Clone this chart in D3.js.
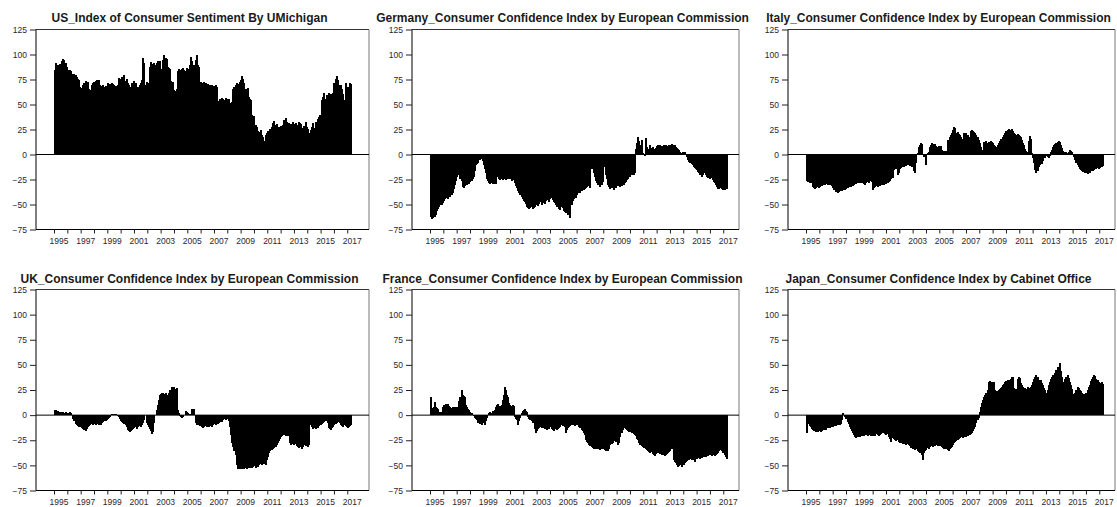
<!DOCTYPE html>
<html>
<head>
<meta charset="utf-8">
<script src="https://cdn.jsdelivr.net/npm/d3@7"></script>
<style>
  html, body { margin: 0; padding: 0; background: #fff; }
  svg { display: block; }
  .title { font-family: "Liberation Sans", Arial, sans-serif; font-weight: bold; font-size: 12px; fill: #1a1a1a; }
  .tick text { font-family: "Liberation Sans", Arial, sans-serif; font-size: 8.5px; fill: #2e252e; }
  .tick line { stroke: #222; }
</style>
</head>
<body>
<svg id="chart" width="1117" height="507"></svg>
<script>
// monthly values, Jan 1995 .. Apr 2017 (one line per year)
const usSentiment = [
  85, 92, 88, 90, 89, 91, 88, 94, 96, 95, 92, 88,
  85, 84, 85, 84, 81, 80, 81, 80, 78, 76, 75, 68,
  66, 67, 70, 72, 74, 72, 73, 66, 64, 65, 70, 72,
  73, 74, 75, 74, 75, 70, 69, 68, 70, 68, 69, 68,
  72, 70, 71, 70, 72, 71, 70, 69, 68, 70, 77, 76,
  74, 78, 72, 80, 74, 76, 72, 70, 66, 68, 72, 70,
  74, 72, 66, 68, 65, 70, 72, 75, 97, 92, 70, 73,
  72, 70, 88, 93, 90, 91, 92, 90, 92, 94, 93, 94,
  86, 83, 95, 100, 97, 96, 88, 87, 86, 74, 72, 73,
  65, 64, 66, 84, 86, 85, 84, 86, 87, 85, 84, 87,
  86, 85, 90, 98, 94, 88, 90, 95, 100, 90, 88, 72,
  73, 72, 71, 73, 72, 70, 71, 69, 70, 68, 70, 69,
  69, 70, 68, 54, 53, 56, 55, 57, 56, 55, 57, 56,
  55, 56, 52, 50, 53, 66, 68, 70, 72, 70, 71, 73,
  75, 79, 76, 72, 66, 65, 67, 58, 56, 55, 40, 38,
  39, 30, 28, 24, 22, 23, 25, 20, 18, 14, 20, 22,
  24, 22, 26, 20, 28, 32, 34, 30, 31, 26, 28, 25,
  29, 27, 30, 35, 37, 33, 30, 32, 29, 31, 30, 33,
  31, 32, 29, 30, 33, 32, 31, 27, 25, 29, 33, 28,
  26, 13, 22, 25, 28, 32, 27, 33, 30, 36, 38, 40,
  38, 55, 58, 62, 56, 60, 58, 62, 60, 61, 58, 62,
  72, 76, 79, 75, 70, 68, 70, 66, 61, 55, 72, 56,
  68, 66, 72, 71
];

const germanyConfidence = [
  -62, -64, -63, -62, -62, -60, -56, -54, -52, -50, -50, -48,
  -46, -44, -43, -43, -44, -42, -42, -40, -38, -34, -30, -26,
  -22, -19, -20, -24, -26, -32, -33, -31, -30, -30, -28, -29,
  -27, -26, -24, -22, -16, -10, -9, -8, -4, -5, -4, -6,
  -10, -14, -18, -24, -26, -28, -29, -28, -29, -29, -28, -29,
  -22, -21, -24, -25, -24, -25, -23, -24, -25, -24, -24, -23,
  -24, -26, -23, -25, -28, -31, -33, -36, -38, -40, -42, -44,
  -46, -47, -49, -52, -53, -54, -53, -52, -54, -53, -52, -50,
  -48, -51, -49, -47, -50, -48, -47, -49, -46, -44, -45, -47,
  -44, -43, -45, -47, -48, -50, -52, -52, -54, -55, -52, -53,
  -56, -57, -58, -52, -60, -54, -63, -50, -46, -44, -42, -43,
  -40, -38, -37, -38, -36, -35, -35, -34, -33, -32, -30, -31,
  -33, -14, -12, -18, -22, -26, -28, -30, -28, -32, -30, -27,
  -12, -10, -20, -24, -30, -32, -34, -33, -32, -35, -32, -33,
  -31, -31, -30, -32, -31, -30, -30, -28, -27, -25, -24, -22,
  -22, -20, -19, -20, -18, 6, 12, 18, 14, 10, 15, 2,
  0, -1, 17, 8, 5, 6, 10, 7, 8, 6, 5, 7,
  9, 10, 8, 10, 9, 8, 10, 7, 10, 8, 9, 10,
  10, 11, 10, 9, 10, 8, 7, 6, 5, 3, 2, 3,
  1, 3, 0, -2, -5, -7, -8, -9, -10, -12, -13, -14,
  -15, -17, -18, -20, -22, -20, -17, -18, -20, -22, -23, -22,
  -24, -23, -25, -27, -28, -30, -32, -34, -34, -33, -34, -35,
  -34, -35, -34, -34
];

const italyConfidence = [
  -26, -27, -27, -28, -28, -28, -32, -33, -34, -33, -32, -33,
  -32, -31, -31, -30, -29, -30, -29, -30, -29, -30, -29, -31,
  -33, -35, -34, -37, -38, -37, -36, -35, -36, -35, -34, -35,
  -34, -33, -32, -31, -32, -30, -31, -30, -28, -29, -28, -27,
  -28, -27, -28, -27, -29, -30, -28, -27, -28, -26, -25, -27,
  -35, -33, -32, -31, -32, -30, -31, -30, -30, -29, -30, -29,
  -29, -28, -27, -26, -24, -22, -23, -15, -13, -14, -20, -18,
  -14, -13, -12, -11, -12, -10, -11, -10, -10, -11, -10, -12,
  -12, -16, -18, -8, 2, 8, 10, 12, 11, 0, -2, 1,
  -10, 2, 3, 8, 10, 12, 11, 10, 11, 9, 8, 9,
  8, 9, 5, 3, 4, 3, 4, 15, 14, 18, 20, 22,
  25, 28, 27, 22, 23, 21, 20, 18, 15, 16, 22, 21,
  22, 20, 18, 16, 24, 25, 24, 23, 22, 20, 18, 15,
  12, 8, 5, 2, 13, 12, 14, 12, 13, 12, 14, 13,
  12, 10, 9, 8, 10, 12, 14, 16, 15, 18, 20, 22,
  24, 25, 26, 25, 24, 26, 24, 22, 21, 20, 21, 20,
  19, 18, 15, 12, 10, 6, 4, 3, 14, 19, 16, 2,
  -3, -8, -15, -18, -16, -12, -10, -8, -9, -6, -2, -3,
  -1, -2, -3, -1, 3, 5, 8, 10, 11, 12, 13, 14,
  13, 10, 7, 4, 3, 2, 3, 2, 3, 5, 4, 3,
  1, -2, -5, -8, -10, -12, -14, -15, -16, -17, -16, -18,
  -18, -19, -17, -18, -16, -15, -16, -15, -14, -14, -13, -14,
  -13, -12, -12, -11
];

const ukConfidence = [
  5, 5, 4, 4, 3, 3, 3, 3, 3, 2, 3, 2,
  2, 2, 3, 2, 0, -4, -6, -9, -10, -11, -12, -11,
  -12, -13, -14, -15, -16, -14, -12, -11, -10, -9, -8, -10,
  -9, -10, -8, -9, -10, -9, -10, -8, -7, -6, -6, -5,
  -4, -3, -2, 0, 1, 1, 1, 1, 0, -1, -2, -4,
  -6, -7, -8, -9, -10, -12, -15, -16, -17, -16, -15, -14,
  -13, -12, -14, -12, -11, -10, -12, -10, -8, -5, 0, -8,
  -10, -12, -14, -16, -19, -17, -8, 0, 5, 10, 15, 20,
  21, 22, 22, 21, 22, 13, 20, 22, 25, 24, 28, 27,
  28, 26, 27, 5, 2, -1, -2, -3, -2, 0, 4, 3,
  2, 0, 1, 0, 6, 5, 6, -8, -10, -9, -10, -11,
  -11, -12, -13, -12, -11, -12, -11, -12, -10, -11, -12, -10,
  -9, -10, -8, -9, -8, -7, -6, -7, -5, -4, -5, -4,
  -4, -6, -12, -20, -28, -32, -36, -40, -50, -54, -53, -54,
  -54, -54, -53, -54, -53, -54, -53, -52, -53, -52, -53, -52,
  -51, -53, -50, -52, -50, -49, -48, -50, -46, -49, -50, -45,
  -42, -38, -36, -35, -35, -34, -33, -32, -30, -28, -26, -24,
  -22, -21, -20, -20, -21, -20, -21, -20, -28, -30, -29, -28,
  -30, -29, -31, -32, -33, -32, -31, -34, -32, -30, -31, -28,
  -32, -30, -10, -8, -12, -14, -13, -14, -12, -13, -11, -10,
  -10, -9, -8, -7, -6, -5, -8, -13, -14, -15, -13, -12,
  -10, -9, -8, -7, -6, -8, -10, -11, -12, -10, -11, -12,
  -13, -12, -11, -10
];

const franceConfidence = [
  18, 7, 2, 8, 13, 8, 7, 6, 2, 3, 3, 8,
  10, 10, 11, 10, 11, 9, 8, 7, 8, 8, 7, 8,
  7, 8, 14, 18, 25, 20, 19, 18, 10, 8, 6, 5,
  3, 2, 0, -1, -3, -4, -5, -8, -8, -9, -10, -7,
  -8, -10, -6, -3, 0, 2, 3, 2, 4, 3, 5, 8,
  10, 11, 8, 9, 10, 15, 20, 28, 25, 20, 18, 12,
  10, 9, 10, 9, -2, -4, -5, -10, -6, -3, 2, 4,
  5, 6, 4, 3, -2, -4, -5, -6, -8, -7, -14, -18,
  -16, -14, -13, -12, -13, -12, -13, -14, -12, -15, -13, -14,
  -12, -14, -15, -16, -14, -13, -15, -14, -13, -12, -10, -11,
  -10, -12, -18, -15, -13, -12, -11, -10, -9, -10, -11, -10,
  -9, -10, -12, -13, -15, -16, -18, -20, -25, -27, -28, -30,
  -31, -32, -33, -34, -33, -34, -34, -33, -34, -35, -34, -33,
  -34, -35, -36, -35, -36, -34, -30, -29, -28, -26, -25, -27,
  -26, -30, -28, -22, -18, -15, -12, -13, -14, -15, -16, -17,
  -17, -18, -17, -19, -20, -21, -24, -25, -28, -30, -31, -32,
  -33, -32, -34, -35, -36, -37, -38, -37, -39, -40, -41, -39,
  -38, -37, -38, -39, -40, -39, -40, -41, -40, -39, -38, -37,
  -36, -34, -33, -45, -47, -48, -50, -52, -51, -50, -52, -49,
  -50, -48, -47, -46, -44, -45, -44, -45, -43, -45, -47, -44,
  -44, -43, -42, -44, -43, -42, -42, -41, -42, -40, -41, -40,
  -40, -41, -39, -40, -41, -40, -39, -38, -36, -35, -36, -38,
  -38, -40, -42, -44
];

const japanConfidence = [
  -18, -7, -9, -11, -12, -14, -15, -16, -16, -17, -17, -16,
  -16, -17, -16, -15, -15, -14, -15, -13, -12, -13, -12, -12,
  -12, -11, -10, -11, -10, -10, -10, -9, -5, 2, 0, -2,
  -4, -7, -9, -12, -14, -16, -18, -20, -22, -23, -22, -21,
  -22, -20, -21, -20, -21, -20, -20, -21, -20, -20, -21, -20,
  -21, -20, -21, -19, -20, -21, -20, -19, -18, -18, -17, -19,
  -20, -19, -22, -24, -27, -23, -22, -24, -25, -26, -25, -27,
  -28, -27, -28, -29, -28, -29, -30, -29, -30, -31, -33, -32,
  -34, -33, -35, -34, -36, -37, -38, -37, -40, -45, -38, -36,
  -35, -33, -34, -32, -31, -30, -32, -30, -31, -30, -31, -30,
  -31, -30, -32, -33, -34, -33, -34, -35, -36, -34, -33, -32,
  -30, -28, -27, -26, -25, -24, -23, -22, -22, -23, -22, -21,
  -22, -21, -20, -20, -19, -18, -16, -14, -12, -8, -5, -3,
  3, 8, 12, 15, 18, 20, 22, 25, 33, 34, 32, 33,
  32, 33, 25, 24, 24, 25, 26, 27, 28, 30, 31, 33,
  34, 35, 34, 35, 36, 38, 38, 27, 25, 26, 36, 38,
  37, 32, 30, 28, 26, 27, 26, 28, 27, 26, 28, 30,
  33, 36, 38, 40, 38, 35, 34, 35, 32, 30, 27, 25,
  22, 25, 30, 33, 36, 38, 40, 38, 42, 45, 48, 47,
  52, 44, 38, 30, 33, 36, 38, 40, 37, 33, 30, 26,
  21, 20, 22, 25, 28, 27, 25, 24, 22, 20, 21, 20,
  22, 25, 28, 30, 34, 36, 38, 40, 39, 36, 35, 33,
  32, 30, 33, 31
];

const titles = [
  "US_Index of Consumer Sentiment By UMichigan",
  "Germany_Consumer Confidence Index by European Commission",
  "Italy_Consumer Confidence Index by European Commission",
  "UK_Consumer Confidence Index by European Commission",
  "France_Consumer Confidence Index by European Commission",
  "Japan_Consumer Confidence Index by Cabinet Office"
];
const seriesList = [usSentiment, germanyConfidence, italyConfidence, ukConfidence, franceConfidence, japanConfidence];

const yearTicks = d3.range(1995, 2018);          // one tick per year
const yTicks = [-75, -50, -25, 0, 25, 50, 75, 100, 125];
const firstYear = 1995;

// layout of the 2 x 3 grid
const cols = [
  { left: 36, right: 369 },
  { left: 412, right: 739 },
  { left: 788, right: 1115 }
];
const rows = [
  { top: 29.5, bottom: 229.5, titleY: 21.5 },
  { top: 289.5, bottom: 490.5, titleY: 282.5 }
];
const yearPx = 13.33;

const svg = d3.select("#chart");
svg.append("rect").attr("width", 1117).attr("height", 507).attr("fill", "#fff");

seriesList.forEach((values, i) => {
  const col = cols[i % 3];
  const row = rows[Math.floor(i / 3)];
  const g = svg.append("g").attr("class", "panel");

  const x0 = col.left + 18;
  const x = d3.scaleLinear()
    .domain([1995, 2017])
    .range([x0, x0 + 22 * yearPx]);
  const y = d3.scaleLinear().domain([-75, 125]).range([row.bottom, row.top]);

  const data = values.map((v, k) => ({ t: firstYear + k / 12, v }));
  const bw = x(1995 + 1 / 12) - x(1995);

  // bars (crisp, slightly overlapping so the fill reads solid)
  g.append("g")
    .attr("shape-rendering", "crispEdges")
    .selectAll("rect")
    .data(data)
    .join("rect")
    .attr("x", (d) => Math.floor(x(d.t)))
    .attr("width", Math.ceil(bw))
    .attr("y", (d) => y(Math.max(0, d.v)))
    .attr("height", (d) => Math.abs(y(d.v) - y(0)))
    .attr("fill", "#000");

  // frame
  g.append("line")
    .attr("x1", col.left).attr("x2", col.right)
    .attr("y1", row.top).attr("y2", row.top)
    .attr("stroke", "#333").attr("stroke-width", 1);
  g.append("line")
    .attr("x1", col.right).attr("x2", col.right)
    .attr("y1", row.top).attr("y2", row.bottom)
    .attr("stroke", "#777").attr("stroke-width", 1);
  g.append("line")
    .attr("x1", col.left).attr("x2", col.left)
    .attr("y1", row.top).attr("y2", row.bottom)
    .attr("stroke", "#000").attr("stroke-width", 1);
  g.append("line")
    .attr("x1", col.left).attr("x2", col.right)
    .attr("y1", row.bottom).attr("y2", row.bottom)
    .attr("stroke", "#000").attr("stroke-width", 1);

  // zero line
  g.append("line")
    .attr("x1", col.left).attr("x2", col.right)
    .attr("y1", y(0)).attr("y2", y(0))
    .attr("stroke", "#000").attr("stroke-width", 1);

  // x axis
  const xAxis = g.append("g")
    .attr("transform", `translate(0,${row.bottom})`)
    .call(
      d3.axisBottom(x)
        .tickValues(yearTicks)
        .tickSize(4)
        .tickPadding(4)
        .tickFormat((d) => (d % 2 === 1 ? String(d) : ""))
    );
  xAxis.select(".domain").remove();
  xAxis.selectAll("text").attr("dx", 4.5);

  // y axis
  const yAxis = g.append("g")
    .attr("transform", `translate(${col.left},0)`)
    .call(d3.axisLeft(y).tickValues(yTicks).tickSize(6).tickPadding(3));
  yAxis.select(".domain").remove();

  // title
  g.append("text")
    .attr("class", "title")
    .attr("x", (col.left + col.right) / 2 - 13)
    .attr("y", row.titleY)
    .attr("text-anchor", "middle")
    .text(titles[i]);
});
</script>
</body>
</html>
